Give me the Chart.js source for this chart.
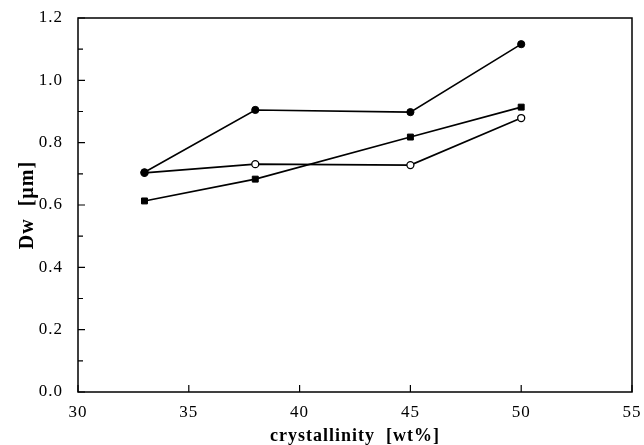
<!DOCTYPE html>
<html>
<head>
<meta charset="utf-8">
<script src="https://cdn.jsdelivr.net/npm/chart.js@4.4.0/dist/chart.umd.min.js"></script>
<style>
  html, body { margin: 0; padding: 0; background: #fff; }
  #wrap { width: 644px; height: 445px; }
</style>
</head>
<body>
<div id="wrap"><canvas id="myChart"></canvas></div>
<script>
// crystallinity [wt%]
const crystallinity = [33, 38, 45, 50];
// Dw values for each series
const dwFilledCircle = [0.705, 0.905, 0.898, 1.116];
const dwOpenCircle = [0.703, 0.731, 0.728, 0.879];
const dwFilledSquare = [0.613, 0.683, 0.818, 0.914];

const xTicks = [30, 35, 40, 45, 50, 55];
const yTicks = [0.0, 0.2, 0.4, 0.6, 0.8, 1.0, 1.2];
const yMinorTicks = [0.1, 0.3, 0.5, 0.7, 0.9, 1.1];

const toPoints = (ys) => crystallinity.map((x, i) => ({x: x, y: ys[i]}));

// frame + inward ticks, a bit of letter spacing on the axis text
const frame = {
  id: 'frame',
  beforeDraw(chart) {
    chart.ctx.letterSpacing = '1px';
  },
  beforeDatasetsDraw(chart) {
    chart.ctx.letterSpacing = '0px';
  },
  afterDraw(chart) {
    const ctx = chart.ctx;
    const a = chart.chartArea;
    const xs = chart.scales.x, ys = chart.scales.y;
    ctx.save();
    ctx.strokeStyle = '#000';
    ctx.lineWidth = 1.5;
    ctx.strokeRect(a.left, a.top, a.right - a.left, a.bottom - a.top);
    ctx.lineWidth = 1.2;
    ctx.beginPath();
    yTicks.forEach(v => {
      const p = ys.getPixelForValue(v);
      ctx.moveTo(a.left, p); ctx.lineTo(a.left + 7, p);
    });
    yMinorTicks.forEach(v => {
      const p = ys.getPixelForValue(v);
      ctx.moveTo(a.left, p); ctx.lineTo(a.left + 5, p);
    });
    xTicks.forEach(v => {
      const p = xs.getPixelForValue(v);
      ctx.moveTo(p, a.bottom); ctx.lineTo(p, a.bottom - 7);
    });
    ctx.stroke();
    ctx.restore();
  }
};

const serif = "'Liberation Serif', 'DejaVu Serif', serif";

new Chart(document.getElementById('myChart'), {
  type: 'line',
  data: {
    datasets: [
      {
        label: 'filled circle',
        data: toPoints(dwFilledCircle),
        order: 0,
        borderColor: '#000',
        backgroundColor: '#000',
        borderWidth: 1.6,
        pointStyle: 'circle',
        pointRadius: 3.6,
        pointBorderWidth: 1,
        tension: 0
      },
      {
        label: 'open circle',
        data: toPoints(dwOpenCircle),
        order: 1,
        borderColor: '#000',
        backgroundColor: '#fff',
        borderWidth: 1.6,
        pointStyle: 'circle',
        pointRadius: 3.5,
        pointBorderWidth: 1.3,
        tension: 0
      },
      {
        label: 'filled square',
        data: toPoints(dwFilledSquare),
        order: 2,
        borderColor: '#000',
        backgroundColor: '#000',
        borderWidth: 1.6,
        pointStyle: 'rect',
        pointRadius: 4.2,
        pointBorderWidth: 1,
        tension: 0
      }
    ]
  },
  options: {
    responsive: true,
    maintainAspectRatio: false,
    animation: false,
    layout: { padding: { left: 0, right: 12, top: 18, bottom: 0 } },
    plugins: {
      legend: { display: false },
      tooltip: { enabled: false }
    },
    scales: {
      x: {
        type: 'linear',
        min: 30,
        max: 55,
        afterFit(scale) { scale.height = 53; },
        afterBuildTicks(scale) { scale.ticks = xTicks.map(v => ({value: v})); },
        grid: { display: false },
        border: { display: false },
        ticks: {
          color: '#000',
          padding: 2,
          font: { family: serif, size: 17 }
        },
        title: {
          display: true,
          text: 'crystallinity  [wt%]',
          color: '#000',
          padding: { top: 0, bottom: 0 },
          font: { family: serif, size: 18, weight: 'bold', lineHeight: 1.0 }
        }
      },
      y: {
        min: 0,
        max: 1.2,
        afterFit(scale) { scale.width = 78; },
        afterBuildTicks(scale) { scale.ticks = yTicks.map(v => ({value: v})); },
        grid: { display: false },
        border: { display: false },
        ticks: {
          color: '#000',
          padding: 7,
          font: { family: serif, size: 17 },
          callback: (v) => Number(v).toFixed(1)
        },
        title: {
          display: true,
          text: 'Dw  [µm]',
          color: '#000',
          padding: { top: 16, bottom: 0 },
          font: { family: serif, size: 20, weight: 'bold', lineHeight: 1.2 }
        }
      }
    }
  },
  plugins: [frame]
});
</script>
</body>
</html>
